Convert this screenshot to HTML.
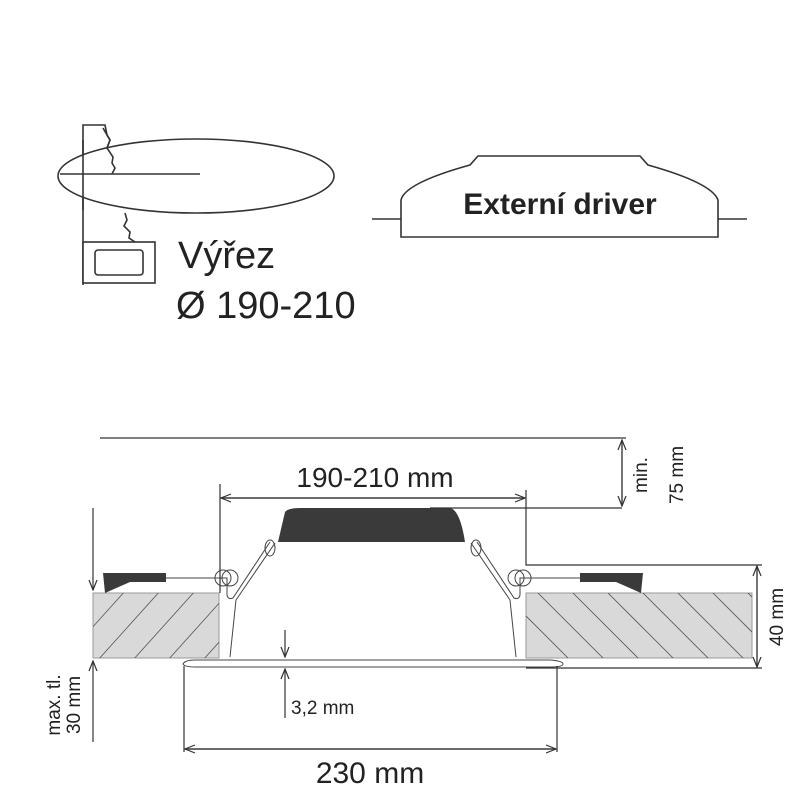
<!DOCTYPE html>
<html><head><meta charset="utf-8"><style>html,body{margin:0;padding:0;background:#fff}svg{display:block}</style></head>
<body>
<svg width="800" height="800" viewBox="0 0 800 800" xmlns="http://www.w3.org/2000/svg" font-family="'Liberation Sans', sans-serif">
<defs>
<marker id="a" markerWidth="12" markerHeight="10" refX="11" refY="5" orient="auto" markerUnits="userSpaceOnUse"><path d="M1,1 L11,5 L1,9" fill="none" stroke="#333" stroke-width="1.2"/></marker>
<clipPath id="cl"><rect x="93" y="593" width="126" height="65"/></clipPath>
<clipPath id="cr"><rect x="526" y="593" width="226" height="65"/></clipPath>
</defs>
<g stroke="#333" fill="none" stroke-width="1.6">
<path d="M83,285 L83,125 L105,125 L107,135 L110,140 L107,148 L113,157 L112,163 L115,168 L111,174"/>
<ellipse cx="196" cy="176" rx="138" ry="37" fill="#fff"/>
<path d="M83,140 L83,210"/>
<path d="M60,174 L200,174"/>
<path d="M103,128 L107,135 L110,140 L107,148 L113,157 L112,163 L115,168 L112,174"/>
<path d="M125,213 L127,220 L124,226 L130,232 L129,238 L135,242"/>
<rect x="83" y="242" width="72" height="41" fill="#fff"/>
<rect x="95" y="250" width="48" height="25" rx="3"/>
<path d="M401,237 L401,200 Q405,183 470,165 L478,156 L640,156 L648,165 Q712,183 718,200 L718,237 Z"/>
<path d="M372,219 L401,219 M718,219 L747,219"/>
</g>
<text x="178" y="268" font-size="38" fill="#222">Výřez</text>
<text x="176" y="318" font-size="38" fill="#222">Ø 190-210</text>
<text x="560" y="214" font-size="30" font-weight="bold" fill="#222" text-anchor="middle">Externí driver</text>

<rect x="93" y="593" width="126" height="65" fill="#d9d9d9" stroke="#999" stroke-width="1"/>
<rect x="526" y="593" width="226" height="65" fill="#d9d9d9" stroke="#999" stroke-width="1"/>
<g stroke="#555" stroke-width="0.8" clip-path="url(#cl)">
<path d="M80,680 L170,580 M115,680 L205,580 M150,680 L240,580 M185,680 L275,580 M45,680 L135,580"/>
</g>
<g stroke="#555" stroke-width="0.8" clip-path="url(#cr)">
<path d="M490,580 L590,680 M525,580 L625,680 M560,580 L660,680 M595,580 L695,680 M630,580 L730,680 M665,580 L765,680 M700,580 L800,680 M735,580 L835,680"/>
</g>
<path d="M103,573 L166,573 L166,582 L130,582 L105,593 Z" fill="#3a3a3a"/>
<path d="M643,573 L580,573 L580,582 L616,582 L641,593 Z" fill="#3a3a3a"/>
<g stroke="#444" fill="none" stroke-width="1">
<path d="M166,578 L227,578 L227,595 Q228,600 233,598 L270,542"/>
<circle cx="223" cy="578" r="8"/><circle cx="230" cy="578" r="8"/>
<path d="M580,578 L520,578 L520,595 Q519,600 514,598 L477,542"/>
<circle cx="523" cy="578" r="8"/><circle cx="516" cy="578" r="8"/>
<path d="M275,543 L236,600 L230,657"/>
<path d="M471,543 L510,600 L516,657"/>
<path d="M183,664 Q185,660 195,660 L550,660 Q563,661 563,664 Q563,667 550,667 L195,667 Q185,667 183,664 Z"/>
<ellipse cx="270" cy="548" rx="5" ry="8"/><ellipse cx="476" cy="548" rx="5" ry="8"/>
</g>
<path d="M278,542 L285,512 Q288,508 300,508 L450,508 Q460,510 465,542 Z" fill="#3a3a3a"/>

<g stroke="#333" fill="none" stroke-width="1.2">
<path d="M100,438 L626,438"/>
<path d="M622,440 L622,506" marker-end="url(#a)"/><path d="M622,506 L622,440" marker-end="url(#a)"/>
<path d="M430,508 L622,508"/>
<path d="M220,484 L220,593 M526,490 L526,565 L762,565"/>
<path d="M220,498 L525,498" marker-end="url(#a)"/><path d="M525,498 L221,498" marker-end="url(#a)"/>
<path d="M757,566 L757,667" marker-end="url(#a)"/><path d="M757,667 L757,566" marker-end="url(#a)"/>
<path d="M526,668 L762,668"/>
<path d="M93,508 L93,590" marker-end="url(#a)"/>
<path d="M93,742 L93,661" marker-end="url(#a)"/>
<path d="M285,630 L285,657" marker-end="url(#a)"/>
<path d="M285,718 L285,669" marker-end="url(#a)"/>
<path d="M184,666 L184,752 M557,666 L557,752"/>
<path d="M184,749 L556,749" marker-end="url(#a)"/><path d="M556,749 L185,749" marker-end="url(#a)"/>
</g>
<text x="375" y="487" font-size="28" fill="#222" text-anchor="middle">190-210 mm</text>
<text x="370" y="783" font-size="30" fill="#222" text-anchor="middle">230 mm</text>
<text x="291" y="714" font-size="19" fill="#222">3,2 mm</text>
<text transform="translate(647,475) rotate(-90)" font-size="19" fill="#222" text-anchor="middle">min.</text>
<text transform="translate(683,475) rotate(-90)" font-size="19" fill="#222" text-anchor="middle">75 mm</text>
<text transform="translate(783,617) rotate(-90)" font-size="19" fill="#222" text-anchor="middle">40 mm</text>
<text transform="translate(60,705) rotate(-90)" font-size="19" fill="#222" text-anchor="middle">max. tl.</text>
<text transform="translate(80,705) rotate(-90)" font-size="19" fill="#222" text-anchor="middle">30 mm</text>
</svg>
</body></html>
